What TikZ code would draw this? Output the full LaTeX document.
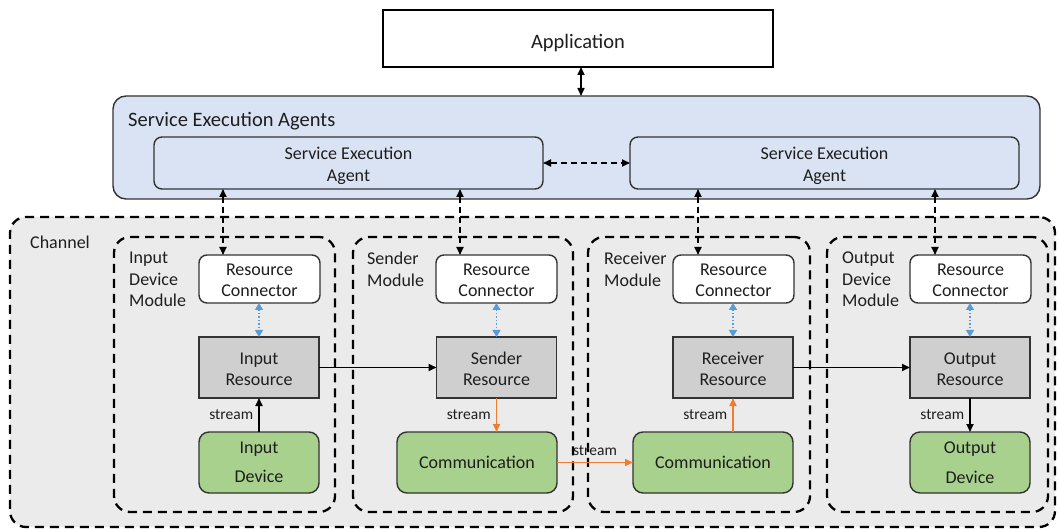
\documentclass[tikz,border=0pt]{standalone}
\usepackage{fontspec}
\setmainfont{Carlito}
\usetikzlibrary{arrows.meta,calc}

\definecolor{txt}{HTML}{1E1E1E}
\definecolor{edge}{HTML}{333333}
\definecolor{seafill}{HTML}{DAE3F3}
\definecolor{chfill}{HTML}{EBEBEB}
\definecolor{resfill}{HTML}{CFCFCF}
\definecolor{devfill}{HTML}{A9D18E}
\definecolor{streamorange}{HTML}{ED7D31}
\definecolor{linkblue}{HTML}{5B9BD5}

\newcommand\bxf{\fontsize{18}{21.5}\selectfont}
\newcommand\bigf{\fontsize{20.5}{24}\selectfont}
\newcommand\smf{\fontsize{15.5}{18}\selectfont}

\tikzset{
  base/.style={inner sep=0pt, outer sep=0pt, align=center, font=\bxf, text=txt},
  appbox/.style={base, draw=black, line width=2.2pt, fill=white, font=\bigf},
  seaouter/.style={base, draw=edge, line width=1.4pt, rounded corners=13pt, fill=seafill},
  seainner/.style={base, draw=edge, line width=1.4pt, rounded corners=8pt, fill=seafill},
  dashbox/.style={base, draw=black, line width=2.3pt, dash pattern=on 9pt off 6pt, rounded corners=16pt, fill=chfill},
  connbox/.style={base, draw=edge, line width=1.4pt, rounded corners=8pt, fill=white, minimum width=121pt, minimum height=48pt},
  resbox/.style={base, draw=edge, line width=1.4pt, fill=resfill, minimum width=120pt, minimum height=61pt},
  devbox/.style={base, draw=edge, line width=1.4pt, rounded corners=10pt, fill=devfill, minimum height=61pt},
  modlabel/.style={inner sep=0pt, anchor=north west, align=left, font=\bxf, text=txt},
  streamlbl/.style={inner sep=0pt, font=\smf, text=txt},
  tip/.tip={Triangle[length=8pt,width=7pt]},
  solidlink/.style={draw=black, line width=1.6pt, tip-tip},
  dashlink/.style={draw=black, line width=1.7pt, dash pattern=on 6pt off 4pt, tip-tip},
  bluelink/.style={draw=linkblue, line width=1.4pt, dotted, {Triangle[length=7pt,width=8pt]}-{Triangle[length=7pt,width=8pt]}},
  flow/.style={draw=black, line width=1.7pt, -{Triangle[length=8pt,width=7pt]}},
  oflow/.style={draw=streamorange, line width=1.7pt, -{Triangle[length=8pt,width=7pt]}},
}

\begin{document}
\begin{tikzpicture}[x=1pt,y=-1pt]
\useasboundingbox (0,0) rectangle (1058,529);

% application on top
\node[appbox, minimum width=390pt, minimum height=57pt] (app) at (578,38.5) {\rule{0pt}{23pt}Application};

% service execution agents
\node[seaouter, minimum width=927pt, minimum height=103pt] (sea) at (576.5,147.5) {};
\node[anchor=west, inner sep=0pt, font=\bigf, text=txt] (sealbl) at (128,121) {Service Execution Agents};
\node[seainner, minimum width=389pt, minimum height=52pt] (seaL) at (348.5,163) {\rule{0pt}{18.5pt}Service Execution\\Agent};
\node[seainner, minimum width=389pt, minimum height=52pt] (seaR) at (824.5,163) {\rule{0pt}{18.5pt}Service Execution\\Agent};

% channel and its four modules
\node[dashbox, minimum width=1045pt, minimum height=310pt] (chan) at (532.5,372) {};
\node[anchor=west, inner sep=0pt, font=\bxf, text=txt] (chanlbl) at (30,242) {Channel};

\node[dashbox, minimum width=221pt, minimum height=275pt] (modIn)  at (224.5,374.5) {};
\node[dashbox, minimum width=220pt, minimum height=275pt] (modSnd) at (463,374.5) {};
\node[dashbox, minimum width=222pt, minimum height=275pt] (modRcv) at (699,374.5) {};
\node[dashbox, minimum width=221pt, minimum height=275pt] (modOut) at (937.5,374.5) {};

\node[modlabel] (lblIn)  at (129,252) {Input\\Device\\Module};
\node[modlabel] (lblSnd) at (367,252) {Sender\\Module};
\node[modlabel] (lblRcv) at (604,252) {Receiver\\Module};
\node[modlabel] (lblOut) at (842,252) {Output\\Device\\Module};

% resource connectors
\node[connbox] (rcIn)  at (259.5,279) {\rule{0pt}{14pt}Resource\\Connector};
\node[connbox] (rcSnd) at (496.5,279) {\rule{0pt}{14pt}Resource\\Connector};
\node[connbox] (rcRcv) at (733.5,279) {\rule{0pt}{14pt}Resource\\Connector};
\node[connbox] (rcOut) at (970.5,279) {\rule{0pt}{14pt}Resource\\Connector};

% resources
\node[resbox] (resIn)  at (259,367.5) {\rule{0pt}{15pt}Input\\Resource};
\node[resbox] (resSnd) at (496.5,367.5) {\rule{0pt}{15pt}Sender\\Resource};
\node[resbox] (resRcv) at (733,367.5) {\rule{0pt}{15pt}Receiver\\Resource};
\node[resbox] (resOut) at (970,367.5) {\rule{0pt}{15pt}Output\\Resource};

% devices
\node[devbox, minimum width=120pt] (devIn)   at (259,462.5) {Input\\[8pt]Device};
\node[devbox, minimum width=160pt] (comSnd)  at (477,462.5) {Communication};
\node[devbox, minimum width=160pt] (comRcv)  at (713,462.5) {Communication};
\node[devbox, minimum width=120pt] (devOut)  at (970,462.5) {Output\\[8pt]Device};

% x positions of the agent links
\coordinate (ax1) at (223,0);
\coordinate (ax2) at (460,0);
\coordinate (ax3) at (698,0);
\coordinate (ax4) at (935,0);

% links between application and agents
\draw[solidlink] (app.south -| 581,0) -- (sea.north -| 581,0);
\draw[dashlink] (seaL.east) -- (seaR.west);
\draw[dashlink] (seaL.south -| ax1) -- (rcIn.north -| ax1);
\draw[dashlink] (seaL.south -| ax2) -- (rcSnd.north -| ax2);
\draw[dashlink] (seaR.south -| ax3) -- (rcRcv.north -| ax3);
\draw[dashlink] (seaR.south -| ax4) -- (rcOut.north -| ax4);

% connector to resource links
\draw[bluelink] (rcIn.south -| resIn) -- (resIn.north);
\draw[bluelink] (rcSnd.south -| resSnd) -- (resSnd.north);
\draw[bluelink] (rcRcv.south -| resRcv) -- (resRcv.north);
\draw[bluelink] (rcOut.south -| resOut) -- (resOut.north);

% resource to resource
\draw[flow] (resIn.east) -- (resSnd.west);
\draw[flow] (resRcv.east) -- (resOut.west);

% streams
\draw[flow] (devIn.north) -- node[streamlbl, left=5pt] {stream} (resIn.south);
\draw[oflow] (resSnd.south) -- node[streamlbl, left=5pt] {stream} (resSnd.south |- comSnd.north);
\draw[oflow] (comSnd.east) -- node[streamlbl, above=6pt] {stream} (comRcv.west);
\draw[oflow] (resRcv.south |- comRcv.north) -- node[streamlbl, left=5pt] {stream} (resRcv.south);
\draw[flow] (resOut.south) -- node[streamlbl, left=5pt] {stream} (devOut.north);

\end{tikzpicture}
\end{document}
